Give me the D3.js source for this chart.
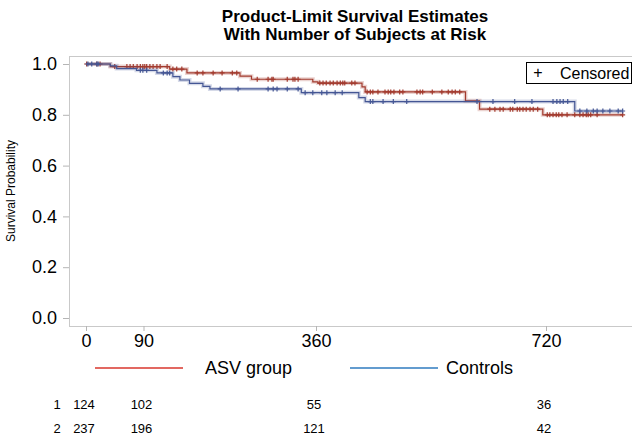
<!DOCTYPE html>
<html>
<head>
<meta charset="utf-8">
<script src="https://cdn.jsdelivr.net/npm/d3@7"></script>
<style>
  html, body { margin: 0; padding: 0; background: #fff; }
  svg { display: block; font-family: "Liberation Sans", Arial, Helvetica, sans-serif; }
</style>
</head>
<body>
<svg id="km" width="632" height="441"></svg>
<script>
  // step data: [day, survival]
  const asvSteps = [
    [0, 1.0], [38, 0.99], [131, 0.98], [158, 0.965], [241, 0.952], [259, 0.94],
    [355, 0.93], [363, 0.925], [432, 0.91], [437, 0.89], [594, 0.855], [616, 0.822],
    [715, 0.80], [840, 0.80]
  ];
  const ctrlSteps = [
    [0, 1.0], [38, 0.993], [48, 0.982], [79, 0.975], [111, 0.965], [136, 0.95],
    [147, 0.937], [162, 0.924], [183, 0.912], [194, 0.902], [337, 0.887], [427, 0.868],
    [437, 0.852], [765, 0.815], [840, 0.815]
  ];

  // censored times (days)
  const asvCens = [1, 17, 22, 45, 64, 69, 74, 80, 85, 89, 92, 95, 100, 105, 111, 116, 127,
    136, 142, 150, 174, 183, 199, 213, 229, 236, 268, 285, 291, 293, 315, 324, 327, 332,
    366, 371, 376, 382, 387, 393, 398, 402, 405, 416, 421,
    440, 445, 449, 457, 468, 473, 477, 482, 491, 496, 518, 523, 527, 542, 557, 567, 573, 578, 585,
    632, 640, 648, 653, 664, 668, 675, 679, 684, 689, 695, 700, 707,
    722, 726, 731, 736, 740, 745, 753, 765, 773, 778, 783, 786, 790, 800, 840];
  const ctrlCens = [3, 9, 17, 19, 85, 89, 95, 121, 127, 131,
    210, 238, 285, 293, 299, 315, 332, 343, 355, 369, 377, 390, 401,
    445, 449, 465, 481, 502, 612, 637, 671, 698, 731, 737, 742, 747, 754,
    773, 784, 794, 800, 809, 820, 833, 840];

  const xTicks = [0, 90, 360, 720];
  const yTicks = [0, 0.2, 0.4, 0.6, 0.8, 1.0];
  const riskTimes = [0, 90, 360, 720];
  const riskAsv = [124, 102, 55, 36];
  const riskCtrl = [237, 196, 121, 42];

  const groups = [
    { name: "ASV group", steps: asvSteps, cens: asvCens, color: "#A23A2E", legend: "#d9362c", risk: riskAsv, id: "1" },
    { name: "Controls", steps: ctrlSteps, cens: ctrlCens, color: "#445694", legend: "#2f7bbf", risk: riskCtrl, id: "2" }
  ];

  const svg = d3.select("#km");
  const P = { left: 69, right: 632, top: 56, bottom: 326 };

  const x = d3.scaleLinear().domain([0, 720]).range([86, 546]);
  const y = d3.scaleLinear().domain([0, 1]).range([318, 64]);

  // title
  svg.append("text").attr("x", 355).attr("y", 22).attr("text-anchor", "middle")
    .style("font-size", "17px").style("font-weight", "bold").text("Product-Limit Survival Estimates");
  svg.append("text").attr("x", 355).attr("y", 40).attr("text-anchor", "middle")
    .style("font-size", "17px").style("font-weight", "bold").text("With Number of Subjects at Risk");

  // frame
  svg.append("rect").attr("x", P.left + 0.5).attr("y", P.top + 0.5)
    .attr("width", P.right - P.left).attr("height", P.bottom - P.top)
    .attr("fill", "none").attr("stroke", "#c9c9c9");

  // axes
  const yAxis = svg.append("g").attr("transform", `translate(${P.left},0)`)
    .call(d3.axisLeft(y).tickValues(yTicks).tickFormat(d3.format(".1f")).tickSize(6).tickPadding(6));
  const xAxis = svg.append("g").attr("transform", `translate(0,${P.bottom})`)
    .call(d3.axisBottom(x).tickValues(xTicks).tickSize(5).tickPadding(3));
  [yAxis, xAxis].forEach(a => {
    a.select(".domain").remove();
    a.selectAll(".tick line").attr("stroke", "#b5b5b5");
    a.selectAll(".tick text").attr("fill", "#000").style("font-size", "18px")
      .style("font-family", "'Liberation Sans', Arial, sans-serif");
  });

  svg.append("text")
    .attr("transform", `translate(15,${(y(0) + y(1)) / 2}) rotate(-90)`)
    .attr("text-anchor", "middle").style("font-size", "12px").text("Survival Probability");

  // curves
  const line = d3.line().x(d => x(d[0])).y(d => y(d[1])).curve(d3.curveStepAfter);
  const survAt = (steps, t) => {
    let s = steps[0][1];
    steps.forEach(d => { if (d[0] <= t) s = d[1]; });
    return s;
  };

  groups.forEach(g => {
    svg.append("path").datum(g.steps).attr("d", line)
      .attr("fill", "none").attr("stroke", g.color).attr("stroke-opacity", 0.22).attr("stroke-width", 4);
    svg.append("path").datum(g.steps).attr("d", line)
      .attr("fill", "none").attr("stroke", g.color).attr("stroke-width", 1.2);
    const cg = svg.append("g").attr("stroke", g.color).attr("stroke-width", 1.2);
    cg.selectAll("path").data(g.cens).join("path")
      .attr("d", t => {
        const cx = x(t), cy = y(survAt(g.steps, t));
        return `M${cx - 2.5},${cy}H${cx + 2.5}M${cx},${cy - 2.5}V${cy + 2.5}`;
      });
  });

  // censored legend
  const lg = svg.append("g");
  lg.append("rect").attr("x", 526.5).attr("y", 62.5).attr("width", 105).attr("height", 21)
    .attr("fill", "#fff").attr("stroke", "#000");
  lg.append("text").attr("x", 538).attr("y", 78).attr("text-anchor", "middle")
    .style("font-size", "16px").text("+");
  lg.append("text").attr("x", 560).attr("y", 79).style("font-size", "16px").text("Censored");

  // group legend
  const legX = [[95, 183, 205], [350, 438, 446]];
  groups.forEach((g, i) => {
    svg.append("line").attr("x1", legX[i][0]).attr("x2", legX[i][1])
      .attr("y1", 368).attr("y2", 368).attr("stroke", g.legend).attr("stroke-width", 1.3);
    svg.append("text").attr("x", legX[i][2]).attr("y", 374).style("font-size", "18px").text(g.name);
  });

  // number at risk
  groups.forEach((g, i) => {
    const ry = 409 + i * 24;
    svg.append("text").attr("x", 57).attr("y", ry).attr("text-anchor", "middle")
      .style("font-size", "13px").text(g.id);
    svg.selectAll(null).data(riskTimes).join("text")
      .attr("x", t => x(t) - 2).attr("y", ry).attr("text-anchor", "middle")
      .style("font-size", "13px").text((t, j) => g.risk[j]);
  });
</script>
</body>
</html>
